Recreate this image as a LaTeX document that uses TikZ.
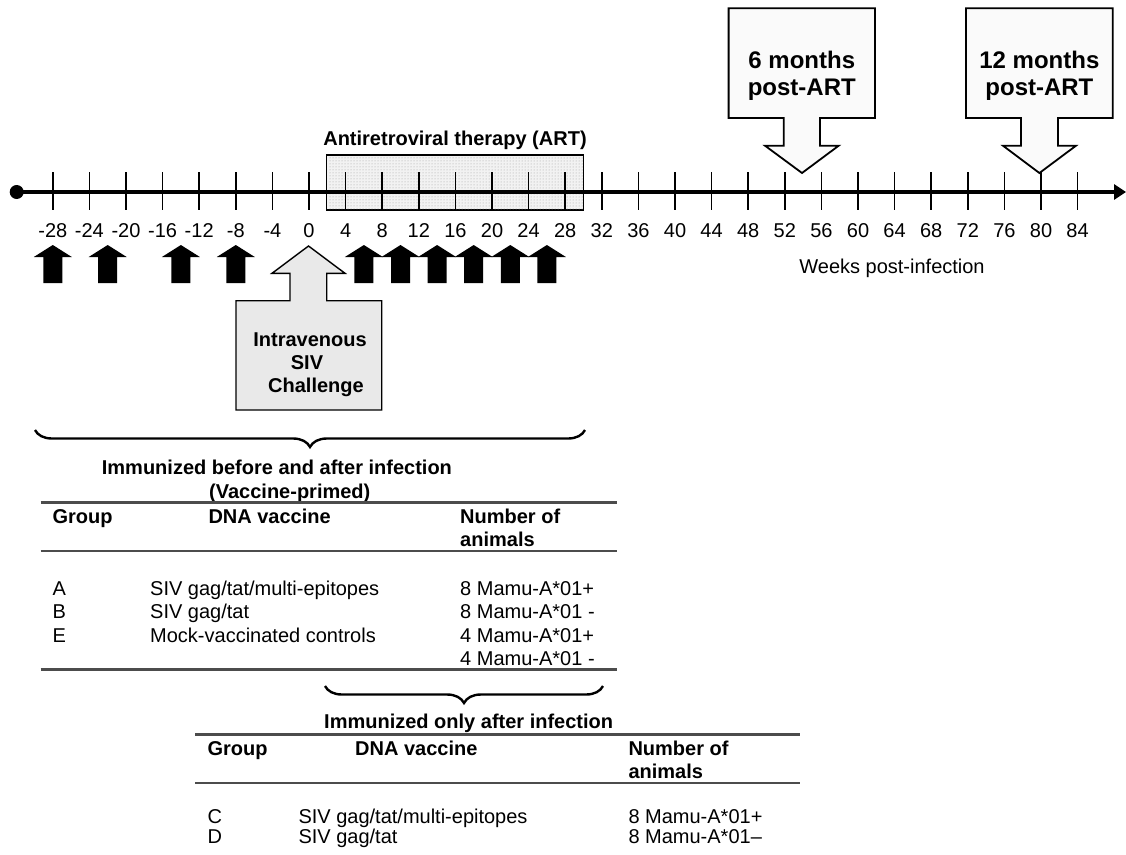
\documentclass[tikz,border=0pt]{standalone}
\usepackage{fontspec}
\setmainfont{Liberation Sans}
\usetikzlibrary{decorations.pathreplacing,patterns,arrows.meta}
\begin{document}
\begin{tikzpicture}[x=1pt,y=-1pt,
  txt/.style={font=\fontsize{20}{23}\selectfont, inner sep=0pt},
  btxt/.style={font=\fontsize{20}{23}\selectfont\bfseries, inner sep=0pt},
  bigtxt/.style={font=\fontsize{24}{27}\selectfont\bfseries, inner sep=0pt, align=center},
  ticksty/.style={line width=1.6pt},
  axissty/.style={line width=3.5pt},
  calloutsty/.style={draw=black, line width=1.8pt, fill=gray!4},
  challengesty/.style={draw=black, line width=1.4pt, fill=gray!17},
  artsty/.style={draw=black, line width=1.5pt, fill=gray!10},
  brc/.style={decorate, decoration={brace, mirror, amplitude=17pt}, line width=2.4pt},
  rulethick/.style={draw=gray!60!black, line width=3pt},
  rulethin/.style={draw=gray!60!black, line width=1.8pt}
]
\useasboundingbox (0,0) rectangle (1126,854);

% ART box
\draw[artsty] (326.7,155) rectangle (583.3,210);
\fill[pattern=dots, pattern color=gray!75] (327.5,156) rectangle (582.5,209);
\node[btxt, anchor=base] (arttitle) at (455,145) {Antiretroviral therapy (ART)};

% timeline
\node[circle, fill=black, inner sep=0pt, minimum size=14pt] (dot) at (16.7,192) {};
\coordinate (axend) at (1126,192);
\draw[axissty, -{Triangle[length=12pt,width=15pt]}] (dot.center) -- (axend);
\foreach \w in {-28,-24,...,84} {
  \pgfmathsetmacro{\cx}{309+9.15*\w}
  \draw[ticksty] (\cx,172) -- (\cx,210);
  \node[txt, anchor=base] (lab\w) at (\cx,237) {\w};
}
\node[txt, anchor=base] (weeks) at (892,273) {Weeks post-infection};

% vaccination arrows
\foreach \w in {-28,-22,-14,-8,6,10,14,18,22,26} {
  \pgfmathsetmacro{\cx}{309+9.15*\w}
  \fill[black] (\cx-19,257) -- (\cx,245) -- (\cx+19,257) -- (\cx+9.5,257)
     -- (\cx+9.5,283) -- (\cx-9.5,283) -- (\cx-9.5,257) -- cycle;
}

% challenge arrow
\draw[challengesty] (308.5,246) -- (345,273.3) -- (326.7,273.3) -- (326.7,300.7)
  -- (381.7,300.7) -- (381.7,410) -- (236,410) -- (236,300.7) -- (290,300.7)
  -- (290,273.3) -- (272,273.3) -- cycle;
\node[btxt, anchor=base] (chal1) at (310,346.5) {Intravenous};
\node[btxt, anchor=base] (chal2) at (307,369) {SIV};
\node[btxt, anchor=base] (chal3) at (316,392) {Challenge};

% callouts
\draw[calloutsty] (728.6,8.3) -- (875,8.3) -- (875,118) -- (820,118) -- (820,145.7)
  -- (838.7,145.7) -- (802,173) -- (765,145.7) -- (783.8,145.7) -- (783.8,118)
  -- (728.6,118) -- cycle;
\node[bigtxt] (six) at (801.8,76) {6 months\\post-ART};
\draw[calloutsty] (966,8.3) -- (1112.7,8.3) -- (1112.7,118) -- (1058,118) -- (1058,145.7)
  -- (1076,145.7) -- (1039.4,173) -- (1003,145.7) -- (1021,145.7) -- (1021,118)
  -- (966,118) -- cycle;
\node[bigtxt] (twelve) at (1039.4,76) {12 months\\post-ART};

% brace 1 and table 1
\draw[brc] (35,430) -- (585,430);
\node[btxt, anchor=base west] (t1a) at (101.7,474) {Immunized before and after infection};
\node[btxt, anchor=base west] (t1b) at (209,498) {(Vaccine-primed)};
\draw[rulethick] (40.7,502.7) -- (616.7,502.7);
\node[btxt, anchor=base west] (h1g) at (52.3,523) {Group};
\node[btxt, anchor=base west] (h1v) at (208.3,523) {DNA vaccine};
\node[btxt, anchor=base west] (h1n) at (460,523) {Number of};
\node[btxt, anchor=base west] (h1a) at (460,546.3) {animals};
\draw[rulethin] (40.7,551) -- (616.7,551);
\node[txt, anchor=base west] (rA) at (52.3,595.5) {A};
\node[txt, anchor=base west] (rB) at (52.3,618.8) {B};
\node[txt, anchor=base west] (rE) at (52.3,642.2) {E};
\node[txt, anchor=base west] (vA) at (150,595.5) {SIV gag/tat/multi-epitopes};
\node[txt, anchor=base west] (vB) at (150,618.8) {SIV gag/tat};
\node[txt, anchor=base west] (vE) at (150,642.2) {Mock-vaccinated controls};
\node[txt, anchor=base west] (nA) at (460,595.5) {8 Mamu-A*01+};
\node[txt, anchor=base west] (nB) at (460,618.8) {8 Mamu-A*01 -};
\node[txt, anchor=base west] (nE1) at (460,642.2) {4 Mamu-A*01+};
\node[txt, anchor=base west] (nE2) at (460,665.5) {4 Mamu-A*01 -};
\draw[rulethick] (40.7,669.3) -- (616.7,669.3);

% brace 2 and table 2
\draw[brc] (325,686) -- (603,686);
\node[btxt, anchor=base west] (t2a) at (324,728.7) {Immunized only after infection};
\draw[rulethick] (195,734.3) -- (800,734.3);
\node[btxt, anchor=base west] (h2g) at (207.3,755.3) {Group};
\node[btxt, anchor=base west] (h2v) at (355,755.3) {DNA vaccine};
\node[btxt, anchor=base west] (h2n) at (628.3,755.3) {Number of};
\node[btxt, anchor=base west] (h2a) at (628.3,778.7) {animals};
\draw[rulethin] (195,783.3) -- (800,783.3);
\node[txt, anchor=base west] (rC) at (207.3,823) {C};
\node[txt, anchor=base west] (rD) at (207.3,843.5) {D};
\node[txt, anchor=base west] (vC) at (298.3,823) {SIV gag/tat/multi-epitopes};
\node[txt, anchor=base west] (vD) at (298.3,843.5) {SIV gag/tat};
\node[txt, anchor=base west] (nC) at (628.3,823) {8 Mamu-A*01+};
\node[txt, anchor=base west] (nD) at (628.3,843.5) {8 Mamu-A*01–};
\end{tikzpicture}
\end{document}
